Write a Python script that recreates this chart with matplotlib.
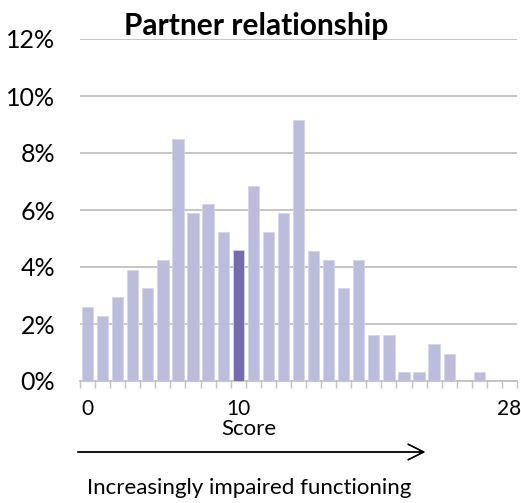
import matplotlib.pyplot as plt
import numpy as np
from matplotlib.ticker import FuncFormatter

# Share of respondents (%) per score, 0..28
scores = list(range(29))
percent = [2.6, 2.27, 2.93, 3.9, 3.25, 4.23, 8.5, 5.89, 6.21, 5.22,
           4.58, 6.85, 5.22, 5.89, 9.15, 4.56, 4.23, 3.25, 4.23, 1.61,
           1.61, 0.3, 0.3, 1.29, 0.96, 0.0, 0.3, 0.0, 0.0]
highlight_score = 10
shown_labels = {0: "0", 10: "10", 28: "28"}

plt.rcParams['font.family'] = ['Lato', 'DejaVu Sans']

fig = plt.figure(figsize=(5.21, 5.03), dpi=100)
ax = fig.add_axes([80 / 521, 1 - 381 / 503, 437 / 521, 342 / 503])

colors = ["#756bb1" if s == highlight_score else "#bcbddc" for s in scores]
ax.bar(scores, percent, width=0.75, color=colors, edgecolor="#d4d5ea",
       linewidth=0.6, zorder=3)

ax.set_xlim(-0.5, 28.5)
ax.set_ylim(0, 12)
ax.set_yticks(np.arange(0, 13, 2))
ax.yaxis.set_major_formatter(FuncFormatter(lambda v, p: f"{v:.0f}%"))
ax.grid(axis="y", color="#c0c0c0", linewidth=1.3, zorder=0)

# category boundary ticks, labels only on a few scores
ax.set_xticks(np.arange(-0.5, 29, 1))
ax.set_xticklabels([])
ax.set_xticks(scores, minor=True)
ax.set_xticklabels([shown_labels.get(s, "") for s in scores], minor=True)
ax.tick_params(axis="x", which="major", length=5, color="#c0c0c0", width=1)
ax.tick_params(axis="x", which="minor", length=0, pad=13, labelsize=15)
ax.tick_params(axis="y", length=0, pad=18, labelsize=18)

for side in ["top", "right", "left"]:
    ax.spines[side].set_visible(False)
ax.spines["bottom"].set_color("#c0c0c0")
ax.spines["bottom"].set_linewidth(1.3)

fig.text(256 / 521, 1 - 26 / 503, "Partner relationship", ha="center",
         va="center", fontsize=21.5, fontweight="bold")
fig.text(249 / 521, 1 - 429 / 503, "Score", ha="center", va="center",
         fontsize=16)
fig.text(249 / 521, 1 - 488 / 503, "Increasingly impaired functioning",
         ha="center", va="center", fontsize=16)
fig.add_artist(plt.annotate("", xy=(428 / 521, 1 - 452 / 503),
                            xytext=(75 / 521, 1 - 452 / 503),
                            xycoords="figure fraction",
                            arrowprops=dict(arrowstyle="->", color="black",
                                            lw=1.0, mutation_scale=28)))

fig.savefig("out.png", dpi=100)
